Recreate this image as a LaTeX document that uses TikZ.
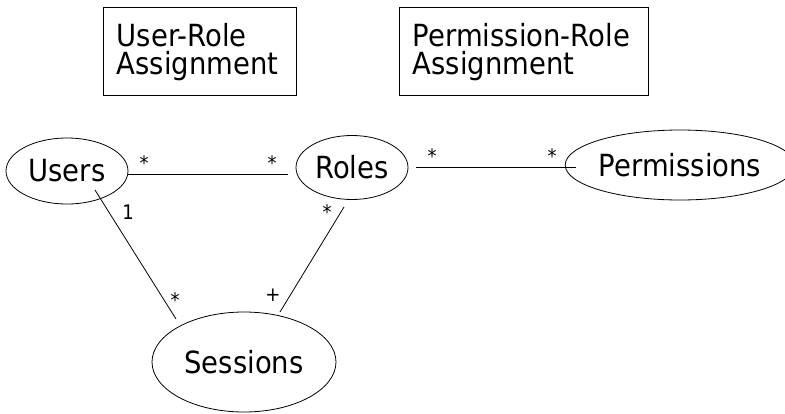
\documentclass[tikz,border=0pt]{standalone}
\usepackage{fontspec}
\setmainfont{DejaVu Sans}[FakeStretch=0.9]
\usetikzlibrary{shapes.geometric}
\begin{document}
\begin{tikzpicture}[x=1pt,y=-1pt,
  ent/.style={draw, ellipse, inner sep=0pt, line width=0.8pt, font=\fontsize{30.5}{36}\selectfont},
  assoc/.style={draw, rectangle, line width=0.8pt, inner sep=0pt, minimum height=88pt},
  assoctext/.style={anchor=north west, inner sep=0pt, align=left, font=\fontsize{30.5}{28}\selectfont},
  mult/.style={anchor=base, inner sep=0pt, font=\fontsize{20}{24}\selectfont},
  conn/.style={line width=0.8pt}]
\useasboundingbox (0,0) rectangle (785,413);
\node[assoc, minimum width=193pt] (ura) at (199.5,51) {};
\node[assoctext] (uratext) at ([shift={(14,16.5)}]ura.north west) {User-Role\\Assignment};
\node[assoc, minimum width=249pt] (pra) at (523.5,51) {};
\node[assoctext] (pratext) at ([shift={(14,16.5)}]pra.north west) {Permission-Role\\Assignment};
\node[ent, minimum width=122pt, minimum height=66pt] (users) at (67,171) {Users};
\node[ent, minimum width=112pt, minimum height=64pt] (roles) at (352,167.5) {Roles};
\node[ent, minimum width=207pt, minimum height=70pt] (perms) at (680,165) {Permissions};
\node[ent, minimum width=184pt, minimum height=100pt] (sess) at (244,362) {Sessions};
\draw[conn] ([shift={(61,3)}]users.center) -- ([shift={(-64,6.5)}]roles.center);
\draw[conn] ([shift={(64,-0.5)}]roles.center) -- ([shift={(-104,2)}]perms.center);
\draw[conn] ([shift={(28,19)}]users.center) -- ([shift={(-68,-43)}]sess.center);
\draw[conn] ([shift={(-8,39.5)}]roles.center) -- ([shift={(36,-50)}]sess.center);
\node[mult] (m1) at (144,170) {*};
\node[mult] (m2) at (272,170) {*};
\node[mult] (m3) at (432,163) {*};
\node[mult] (m4) at (552,163) {*};
\node[mult] (m5) at (327,219) {*};
\node[mult] (m6) at (175,307) {*};
\node[mult] (m7) at (128,219) {1};
\node[mult] (m8) at (273,301) {+};
\end{tikzpicture}
\end{document}
